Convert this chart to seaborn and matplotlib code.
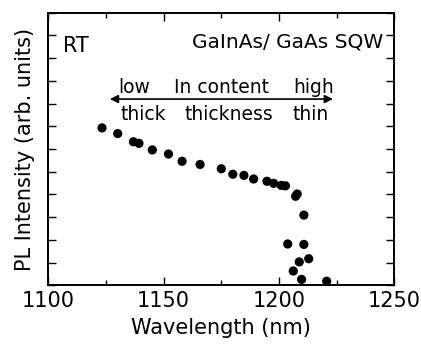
import numpy as np
import pandas as pd
import matplotlib
matplotlib.use("Agg")
import matplotlib.pyplot as plt
import seaborn as sns

# PL peak wavelength (nm) vs PL intensity (arb. units)
wavelength = [1123.3, 1130.1, 1136.9, 1139.3, 1145.1, 1152.1, 1158.0, 1165.8,
              1175.0, 1180.0, 1184.8, 1189.0, 1194.8, 1197.7, 1201.0, 1202.8,
              1207.2, 1207.9, 1210.8, 1203.8, 1210.8, 1212.9, 1208.8, 1206.2,
              1209.8, 1220.7]
intensity = [6.93, 6.68, 6.32, 6.25, 5.96, 5.78, 5.46, 5.32,
             5.13, 4.89, 4.84, 4.68, 4.58, 4.49, 4.40, 4.38,
             3.92, 4.02, 3.09, 1.82, 1.80, 1.17, 1.03, 0.63,
             0.26, 0.18]

x_ticks = [1100, 1150, 1200, 1250]
x_minor = [1125, 1175, 1225]
y_ticks = list(range(0, 13))

df = pd.DataFrame({"wavelength": wavelength, "intensity": intensity})

sns.set_style("ticks")
plt.rcParams["font.family"] = ["DejaVu Sans"]
plt.rcParams["text.color"] = "black"
plt.rcParams["axes.labelcolor"] = "black"
plt.rcParams["xtick.color"] = "black"
plt.rcParams["ytick.color"] = "black"

fig = plt.figure(figsize=(4.21, 3.44), dpi=100)
ax = fig.add_axes([0.1147, 0.1706, 0.8219, 0.7924])

sns.scatterplot(data=df, x="wavelength", y="intensity", color="black",
                s=44, edgecolor="none", ax=ax, legend=False)

ax.set_xlim(1100, 1250)
ax.set_ylim(0, 12)
ax.set_xticks(x_ticks)
ax.set_xticks(x_minor, minor=True)
ax.set_yticks(y_ticks)
ax.set_yticklabels([])
ax.tick_params(axis="both", which="both", direction="in", top=True, right=True,
               width=1.0, colors="black")
ax.tick_params(axis="x", which="major", length=6, labelsize=15, pad=4)
ax.tick_params(axis="x", which="minor", length=3.5)
ax.tick_params(axis="y", which="major", length=6)
for sp in ax.spines.values():
    sp.set_linewidth(1.4)
    sp.set_color("black")

ax.set_xlabel("Wavelength (nm)", fontsize=15, labelpad=5)
ax.set_ylabel("PL Intensity (arb. units)", fontsize=15, labelpad=6)

ax.text(1106.4, 10.27, "RT", fontsize=15, va="baseline", ha="left")
ax.text(1245.1, 10.49, "GaInAs/ GaAs SQW", fontsize=14.5, va="baseline", ha="right")

# composition / thickness direction arrow
ax.annotate("", xy=(1126.7, 8.2), xytext=(1223.4, 8.2),
            arrowprops=dict(arrowstyle="<|-|>", color="black", lw=1.2,
                            mutation_scale=12, shrinkA=0, shrinkB=0))
ax.text(1137.4, 8.46, "low", fontsize=13.5, ha="center", va="baseline")
ax.text(1174.9, 8.46, "In content", fontsize=13.5, ha="center", va="baseline")
ax.text(1215.2, 8.46, "high", fontsize=13.5, ha="center", va="baseline")
ax.text(1141.0, 7.28, "thick", fontsize=13.5, ha="center", va="baseline")
ax.text(1178.3, 7.28, "thickness", fontsize=13.5, ha="center", va="baseline")
ax.text(1213.7, 7.28, "thin", fontsize=13.5, ha="center", va="baseline")

fig.savefig("out.png", dpi=100)
